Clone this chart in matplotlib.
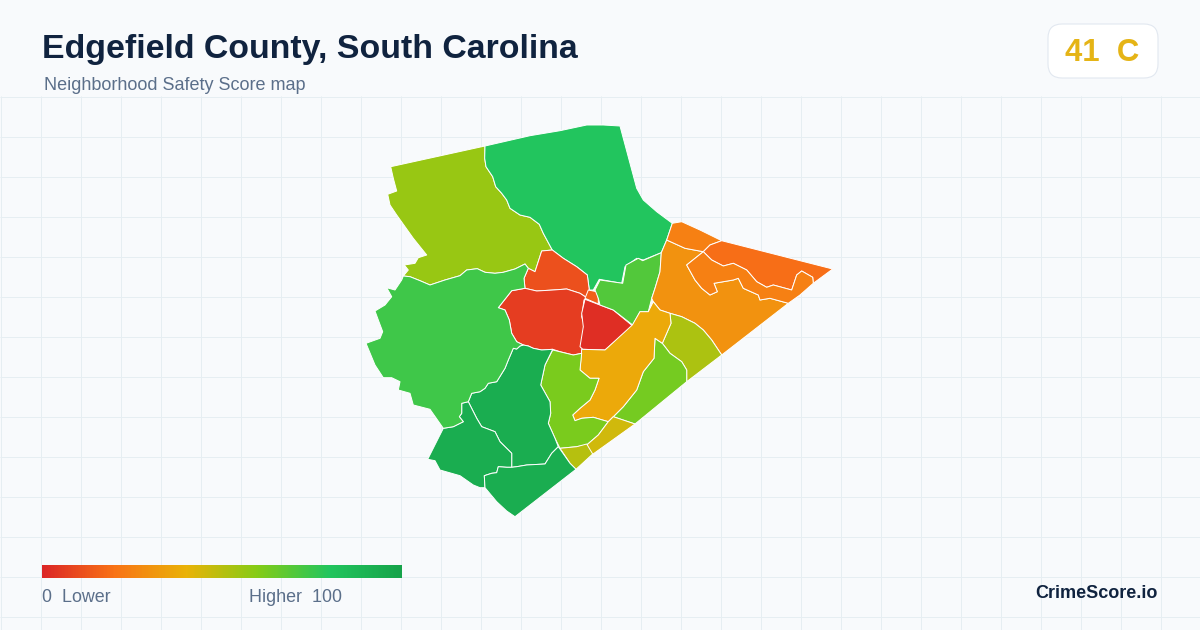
"""Edgefield County neighbourhood safety score map, tracts drawn from traced outlines."""
import numpy as np
import matplotlib
matplotlib.use("Agg")
import matplotlib.pyplot as plt
from matplotlib.colors import LinearSegmentedColormap, Normalize
from matplotlib.patches import FancyBboxPatch, Polygon

plt.rcParams["font.family"] = ["Liberation Sans", "DejaVu Sans"]

BG = "#f8fafc"
GRID = "#e6eef2"
INK = "#10233f"
MUTED = "#5b6f8a"
STEPS = [0, 20, 40, 60, 80, 100]
STEP_COLORS = ["#dc2626", "#f97316", "#eab308", "#84cc16", "#22c55e", "#16a34a"]

# tract outlines, in picture units
TRACT_NW = [(390.7, 166.7), (485, 146), (484.7, 158.3), (486, 166.7), (492.7, 176.7), (495.7, 186.7), (501.7, 193.3),
            (506.7, 200), (510, 208.3), (520, 215), (530, 217.3), (539.3, 224.3), (543.3, 233.3), (552.3, 250),
            (541.7, 251), (535, 271.7), (528.3, 268.3), (525, 264), (515, 269), (503.3, 272.3), (495, 273.3),
            (485, 272.3), (477.3, 268.7), (466.7, 270), (460, 275.7), (445, 280), (430, 285), (420, 280.7),
            (410, 276.7), (403.3, 276), (408.3, 270), (404.3, 265), (415, 263.3), (418.3, 257.7), (426.7, 255),
            (413.3, 238.3), (396.7, 215), (390, 205), (387.7, 194.3), (396.7, 191), (393.3, 178.3)]
TRACT_N = [(485, 146), (484.7, 158.3), (486, 166.7), (492.7, 176.7), (495.7, 186.7), (501.7, 193.3), (506.7, 200),
           (510, 208.3), (520, 215), (530, 217.3), (539.3, 224.3), (543.3, 233.3), (552.3, 250), (563.3, 258.3),
           (576.7, 266.7), (587.3, 275), (589.3, 290), (593.3, 290), (599.3, 279.3), (621.7, 283.3), (625, 266.7),
           (636.7, 258.3), (643.3, 260), (661.3, 252.7), (666.7, 240), (672.3, 223.3), (656.7, 211.7), (643.3, 200),
           (636.7, 188.3), (620, 126), (603.3, 125), (586.7, 125), (560, 130.7), (530, 135.7)]
TRACT_C_UP = [(541.7, 251), (552.3, 250), (563.3, 258.3), (576.7, 266.7), (587.3, 275), (589.3, 290), (586.7, 297.7),
              (580, 293.3), (566.7, 289), (553.3, 290), (536.7, 291), (525, 288.3), (524, 278.3), (528.3, 268.3),
              (535, 271.7)]
TRACT_C_LEFT = [(498.3, 307.7), (511.7, 290.7), (525, 288.3), (536.7, 291), (553.3, 290), (566.7, 289), (580, 293.3),
                (586.7, 297.7), (584, 300), (581.7, 316.7), (582.7, 320), (584.3, 323.3), (582.7, 343.3),
                (581.7, 353.3), (573.3, 355), (560, 351.7), (552.7, 349.3), (541.7, 350), (533.3, 348.3), (528.3, 346),
                (523.3, 345), (516.7, 341.7), (511.7, 333.3), (509.3, 320), (505, 310)]
TRACT_C_RIGHT = [(585, 299.3), (600, 305), (613.3, 310), (632.7, 326), (605, 350), (582.7, 349.3), (580, 346.7),
                 (583.3, 326.7), (581.7, 313.3)]
TRACT_C_SMALL = [(588.3, 290), (596.7, 291.7), (598.3, 298.3), (598.3, 304), (585, 298.3)]
TRACT_NE_GREEN = [(600, 280), (622.7, 283.3), (626, 265), (638.3, 258.3), (642.7, 260.7), (661.3, 252.7), (660, 271.7),
                  (655, 288.3), (651.7, 298.3), (648.3, 311.7), (640, 311.7), (632.7, 325), (613.3, 310), (600, 305),
                  (598.3, 298.3), (595, 290)]
TRACT_E_BIG = [(666.7, 240), (685, 248.3), (703.3, 251.7), (686.7, 265), (695, 280), (701.7, 288.3), (710, 295),
               (717.3, 291.7), (714, 283.3), (733.3, 280), (738.3, 278.3), (743.3, 288.3), (758.3, 295), (760, 300),
               (770, 298.3), (788.3, 303.3), (721.7, 355), (711.7, 340), (703.3, 330), (695, 323.3), (681.7, 316.7),
               (670, 313.3), (660, 310), (653.3, 301.7), (651.7, 298.3), (655, 288.3), (660, 271.7), (661.3, 252.7)]
TRACT_E_TOP = [(672.3, 223.3), (681.7, 221.7), (700, 230), (721.7, 240.7), (710, 245), (703.3, 251.7), (685, 248.3),
               (666.7, 240)]
TRACT_E_TIP = [(721.7, 240.7), (832.7, 269), (813.3, 283.3), (812.7, 277.3), (801.7, 271), (796.7, 275), (791.7, 290),
               (773.3, 285), (766.7, 287.3), (756.7, 281.7), (746.7, 270), (733.3, 263.3), (723.3, 266), (711.7, 260),
               (703.3, 251.7), (710, 245)]
TRACT_E_MID = [(703.3, 251.7), (686.7, 265), (695, 280), (701.7, 288.3), (710, 295), (717.3, 291.7), (714, 283.3),
               (733.3, 280), (738.3, 278.3), (743.3, 288.3), (758.3, 295), (760, 300), (770, 298.3), (788.3, 303.3),
               (800, 295), (813.3, 283.3), (812.7, 277.3), (801.7, 271), (796.7, 275), (791.7, 290), (773.3, 285),
               (766.7, 287.3), (756.7, 281.7), (746.7, 270), (733.3, 263.3), (723.3, 266), (711.7, 260)]
TRACT_E_OLIVE = [(670, 313.3), (681.7, 316.7), (695, 323.3), (703.3, 330), (711.7, 340), (721.7, 355), (686.7, 381.7),
                 (686.7, 370), (681.7, 361.7), (670, 353.3), (662.3, 343.3), (671, 323.3)]
TRACT_SE_LIME = [(662.3, 343.3), (655, 338.3), (654, 358.3), (643.3, 371.7), (636.7, 390), (623.3, 406.7),
                 (613.3, 416.7), (635, 424), (686.7, 381.7), (686.7, 370), (681.7, 361.7), (670, 353.3)]
TRACT_AMBER = [(648.3, 311.7), (653.3, 301.7), (660, 310), (670, 313.3), (671, 323.3), (662.3, 343.3), (655, 338.3),
               (654, 358.3), (643.3, 371.7), (636.7, 390), (623.3, 406.7), (613.3, 416.7), (608.3, 421.7),
               (593.3, 417.3), (581.7, 418.3), (575, 420.7), (572.7, 415), (580, 408.3), (590, 400), (595, 390),
               (599, 378.3), (590, 378.3), (580, 370), (581.7, 349.3), (605, 350), (632.3, 325), (640, 311.7)]
TRACT_S_LIME = [(552.7, 350), (573.3, 355), (581.7, 353.3), (580, 370), (590, 378.3), (599, 378.3), (595, 390),
                (590, 400), (580, 408.3), (572.7, 415), (575, 420.7), (581.7, 418.3), (593.3, 417.3), (608.3, 421.7),
                (598.3, 435), (586.7, 445), (576.7, 446.7), (560, 448.3), (555, 438.3), (548.3, 423.3), (550.7, 413.3),
                (550, 401.7), (540.7, 385), (545, 365)]
TRACT_S_YELLOW = [(608.3, 421.7), (613.3, 416.7), (635, 424), (591.7, 455), (586.7, 445), (598.3, 435)]
TRACT_S_OLIVE = [(560, 448.3), (576.7, 446.7), (586.7, 444), (592.7, 454), (576, 469.3), (570, 463.3)]
TRACT_S_MID = [(513.3, 348.3), (516.7, 349), (520, 346), (523.3, 345), (528.3, 346), (533.3, 348.3), (541.7, 350),
               (552.7, 349.3), (545, 365), (540.7, 385), (550, 401.7), (550.7, 413.3), (548.3, 423.3), (555, 438.3),
               (558.3, 446.7), (551.7, 453.3), (545, 464), (526.7, 465), (516.7, 466.7), (511.7, 467.3), (511.7, 453.3),
               (500, 441.7), (495, 431.7), (481.7, 426.7), (476.7, 418.3), (468.3, 401.7), (471.7, 393.3), (480, 391.7),
               (485, 388.3), (488.3, 383.3), (496.7, 381.7), (505, 368.3), (508.3, 360)]
TRACT_SW = [(468.3, 401.7), (461.7, 403.3), (461.7, 413.3), (459.3, 416.7), (463.3, 421.7), (453.3, 426.7),
            (443.3, 428.3), (427.7, 459.3), (435, 460.7), (440, 470), (460, 475.7), (473.3, 485), (480, 487.7),
            (485, 487.7), (484.3, 475.7), (491.7, 473.3), (496.7, 472.7), (498.3, 466.7), (506.7, 467.3),
            (511.7, 467.3), (511.7, 453.3), (500, 441.7), (495, 431.7), (481.7, 426.7), (476.7, 418.3)]
TRACT_S_TIP = [(484.3, 475.7), (491.7, 473.3), (496.7, 472.7), (498.3, 466.7), (506.7, 467.3), (511.7, 467.3),
               (516.7, 466.7), (526.7, 465), (545, 464), (551.7, 453.3), (558.3, 446.7), (570, 463.3), (576, 469.3),
               (515, 516.7), (506.7, 511), (496.7, 501.7), (485, 487.7)]
TRACT_W = [(403.3, 276), (410, 276.7), (420, 280.7), (430, 285), (445, 280), (460, 275.7), (466.7, 270), (477.3, 268.7),
           (485, 272.3), (495, 273.3), (503.3, 272.3), (515, 269), (525, 264), (528.3, 268.3), (524, 278.3),
           (525, 288.3), (511.7, 290.7), (498.3, 307.7), (505, 310), (509.3, 320), (511.7, 333.3), (516.7, 341.7),
           (523.3, 345), (520, 346), (516.7, 349), (513.3, 348.3), (508.3, 360), (505, 368.3), (496.7, 381.7),
           (488.3, 383.3), (485, 388.3), (480, 391.7), (471.7, 393.3), (468.3, 401.7), (461.7, 403.3), (461.7, 413.3),
           (459.3, 416.7), (463.3, 421.7), (453.3, 426.7), (443.3, 428.3), (430, 409.3), (413.3, 405), (410, 393.3),
           (398.3, 390), (400, 381.7), (391.7, 377.7), (383.3, 377.7), (375, 365), (366, 343.3), (380, 338.3),
           (382.7, 331.7), (378.3, 320), (375, 311), (385, 305), (391.7, 296.7), (386.7, 287.7), (395, 290),
           (401.7, 280)]

TRACTS = [TRACT_NW, TRACT_N, TRACT_C_UP, TRACT_C_LEFT, TRACT_C_RIGHT, TRACT_C_SMALL, TRACT_NE_GREEN, TRACT_E_BIG,
          TRACT_E_TOP, TRACT_E_TIP, TRACT_E_MID, TRACT_E_OLIVE, TRACT_SE_LIME, TRACT_AMBER, TRACT_S_LIME,
          TRACT_S_YELLOW, TRACT_S_OLIVE, TRACT_S_MID, TRACT_SW, TRACT_S_TIP, TRACT_W]
SCORES = [56, 80, 11, 6, 2, 15, 70, 30, 24, 19, 24, 52, 63, 37, 62, 45, 50, 94, 94, 94, 74]

cmap = LinearSegmentedColormap.from_list("score", [(s / 100, c) for s, c in zip(STEPS, STEP_COLORS)])
norm = Normalize(0, 100)

fig = plt.figure(figsize=(12, 6.3), dpi=100, facecolor=BG)
ax = fig.add_axes([0, 0, 1, 1])
ax.set_xlim(0, 1200); ax.set_ylim(630, 0); ax.axis("off")

# graph paper behind the map, starts under the header
ax.vlines(np.arange(0.5, 1200, 40), 96, 630, color=GRID, lw=0.72, zorder=1)
ax.hlines(np.arange(96.5, 630, 40), 0, 1200, color=GRID, lw=0.72, zorder=1)

for outline, score in zip(TRACTS, SCORES):
    ax.add_patch(Polygon(outline, closed=True, facecolor=cmap(norm(score)), edgecolor="white",
                         lw=0.7, joinstyle="round", zorder=3))

ax.text(42.5, 49.5, "Edgefield County, South Carolina", fontsize=24.4, fontweight="bold", color=INK,
        va="center", ha="left", zorder=5)
ax.text(44, 85.5, "Neighborhood Safety Score map", fontsize=12.95, color=MUTED, va="center", ha="left", zorder=5)

# score badge
ax.add_patch(FancyBboxPatch((1060, 36), 86, 30, boxstyle="round,pad=12,rounding_size=14", facecolor="white",
                            edgecolor="#e2e8f0", lw=0.8, zorder=4))
ax.text(1102.5, 53, "41  C", fontsize=22.4, fontweight="bold", color="#e5b416", va="center", ha="center", zorder=5)

# legend bar
ax.imshow(np.linspace(0, 100, 360)[None, :], cmap=cmap, norm=norm, extent=(42, 402, 578, 565),
          aspect="auto", zorder=4)
ax.set_xlim(0, 1200); ax.set_ylim(630, 0)
ax.text(42, 598, "0  Lower", fontsize=12.85, color=MUTED, va="center", ha="left", zorder=5)
ax.text(249, 598, "Higher  100", fontsize=12.85, color=MUTED, va="center", ha="left", zorder=5)
ax.text(1158, 594, "CrimeScore.io", fontsize=13, fontweight="bold", color=INK, va="center", ha="right", zorder=5)

fig.savefig("out.png", dpi=100, facecolor=BG)
